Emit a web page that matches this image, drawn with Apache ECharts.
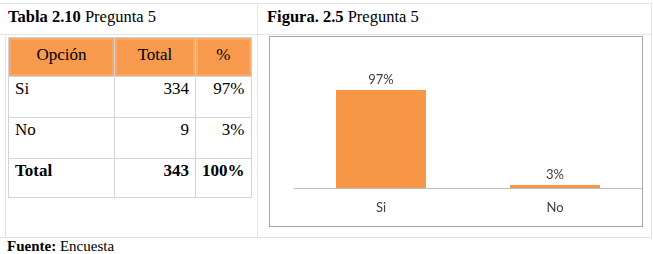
<!DOCTYPE html>
<html>
<head>
<meta charset="UTF-8">
<title>Pregunta 5</title>
<script src="https://cdn.jsdelivr.net/npm/echarts@6/dist/echarts.min.js"></script>
<style>
	body { margin: 0; width: 653px; height: 254px; background: #fff; position: relative; overflow: hidden; font-family: "Liberation Serif", serif; color: #000; }
	.ln { position: absolute; background: #e4e4e4; }
	.cap { position: absolute; font-size: 16.5px; line-height: 18px; white-space: nowrap; }
	#tabla { position: absolute; left: 8px; top: 37px; border-collapse: collapse; font-size: 17px; }
	#tabla td { border: 1px solid #d4d4d4; padding: 3px 6px 0 6px; vertical-align: top; line-height: 18px; box-sizing: border-box; }
	#tabla tr.head td { background: #f79a4e; text-align: center; padding-top: 8px; box-shadow: inset 0 0 0 2px #f8a765; }
	#tabla td.num { text-align: right; }
	#tabla tr.tot td { font-weight: bold; }
	#main { position: absolute; left: 269px; top: 36px; width: 372px; height: 189px; border: 1px solid #a8a8a8; }
</style>
</head>
<body>
	<!--lineas de la tabla exterior-->
	<div class="ln" style="left:0;top:3px;width:652px;height:1px;"></div>
	<div class="ln" style="left:0;top:34px;width:652px;height:1px;"></div>
	<div class="ln" style="left:0;top:237px;width:652px;height:1px;"></div>
	<div class="ln" style="left:257px;top:3px;width:1px;height:234px;"></div>
	<div class="ln" style="left:651px;top:3px;width:1px;height:234px;"></div>
	<div class="ln" style="left:5px;top:34px;width:1px;height:203px;"></div>

	<div class="cap" style="left:8px;top:8px;"><b>Tabla 2.10</b> Pregunta 5</div>
	<div class="cap" style="left:267px;top:8px;"><b>Figura. 2.5</b> Pregunta 5</div>
	<div class="cap" style="left:7px;top:237px;font-size:15px;"><b>Fuente:</b> Encuesta</div>

	<table id="tabla"></table>
	<div id="main"></div>

	<script type="text/javascript">
		// datos
		var opciones = ['Si', 'No'];
		var totales = [334, 9];
		var porcentajes = [97, 3];
		var totalGeneral = 343;

		// tabla
		var colW = [106, 81, 55];
		var html = '<tr class="head" style="height:39px;"><td style="width:' + colW[0] + 'px">Opción</td><td style="width:' + colW[1] + 'px">Total</td><td style="width:' + colW[2] + 'px">%</td></tr>';
		for(var i = 0; i < opciones.length; i++) {
			html += '<tr style="height:41px;"><td>' + opciones[i] + '</td><td class="num">' + totales[i] + '</td><td class="num">' + porcentajes[i] + '%</td></tr>';
		}
		html += '<tr class="tot" style="height:39px;"><td>Total</td><td class="num">' + totalGeneral + '</td><td class="num">100%</td></tr>';
		document.getElementById('tabla').innerHTML = html;

		// grafico
		var myChart = echarts.init(document.getElementById('main'));
		var option = {
			animation: false,
			grid: {
				left: 24,
				right: 0,
				top: 50,
				bottom: 38
			},
			xAxis: {
				type: 'category',
				data: opciones,
				axisLine: { lineStyle: { color: '#bfbfbf', width: 1 } },
				axisTick: { show: false },
				axisLabel: { color: '#404040', fontFamily: 'Lato', fontSize: 13, margin: 13 }
			},
			yAxis: {
				type: 'value',
				min: 0,
				max: 100,
				show: false,
				splitLine: { show: false }
			},
			series: [{
				type: 'bar',
				data: porcentajes,
				barWidth: 90,
				itemStyle: { color: '#f79646' },
				label: {
					show: true,
					position: 'top',
					distance: 4,
					color: '#404040',
					fontFamily: 'Lato',
					fontSize: 13,
					formatter: '{c}%'
				}
			}]
		};
		myChart.setOption(option);
	</script>
</body>
</html>
